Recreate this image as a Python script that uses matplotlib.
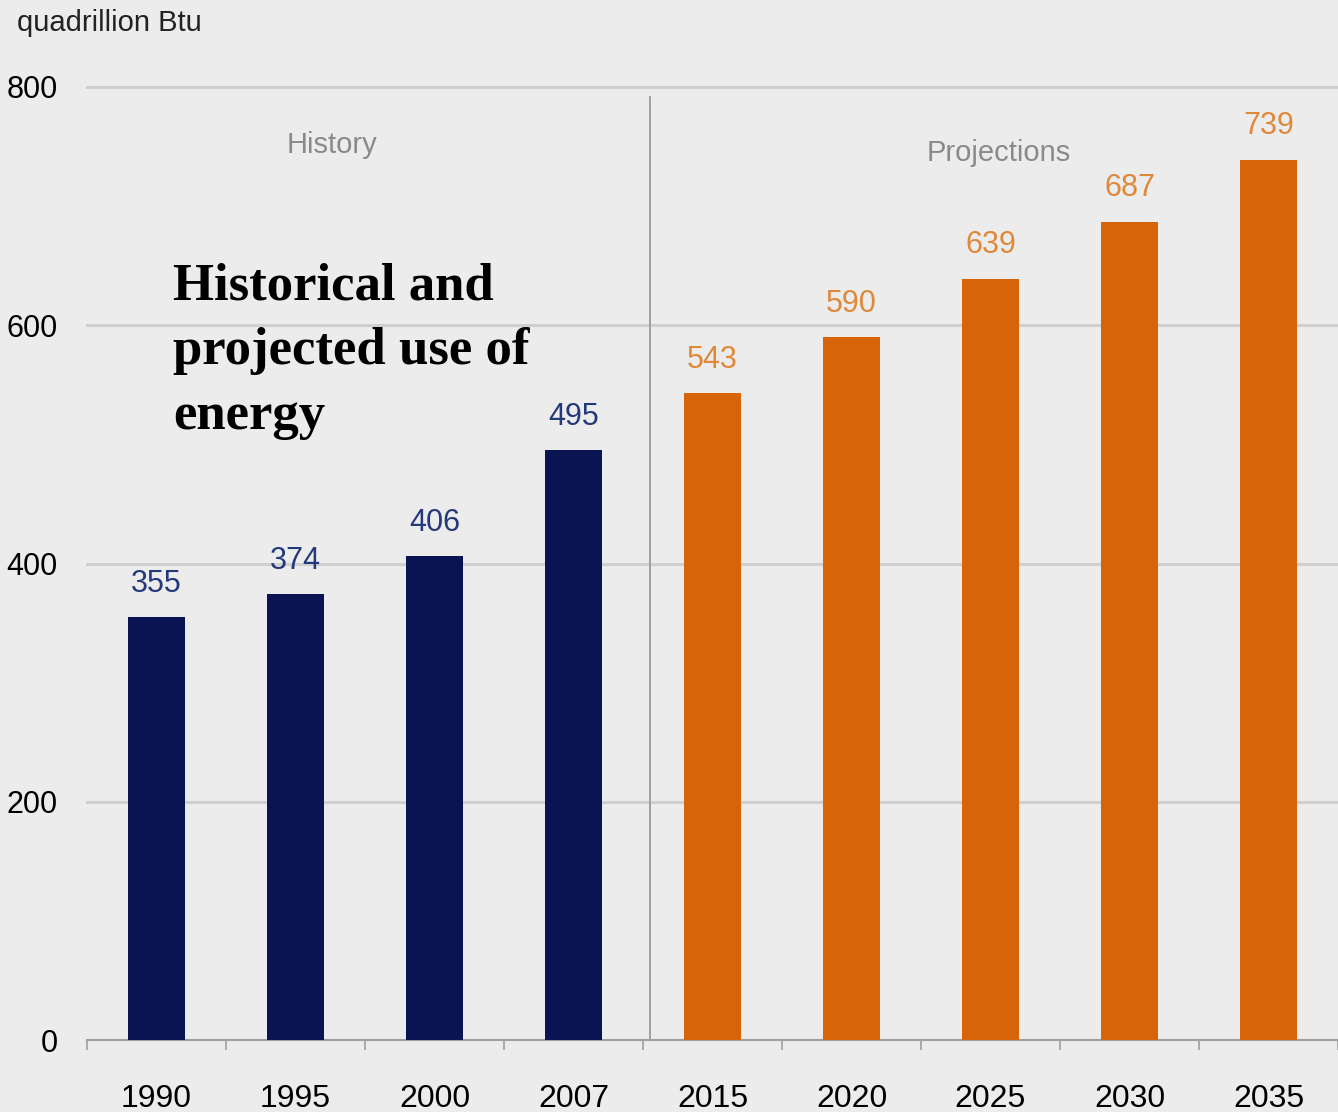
import matplotlib
matplotlib.use("Agg")
import matplotlib.pyplot as plt

years = ["1990", "1995", "2000", "2007", "2015", "2020", "2025", "2030", "2035"]
energy_use = [355, 374, 406, 495, 543, 590, 639, 687, 739]
n_history = 4
y_ticks = [0, 200, 400, 600, 800]

BG = "#ececec"
NAVY = "#0b1452"
ORANGE = "#d8640a"

plt.rcParams.update({
    "font.family": ["Liberation Sans", "DejaVu Sans"],
    "figure.facecolor": BG,
    "axes.facecolor": BG,
})

fig = plt.figure(figsize=(13.38, 11.12), dpi=100)
W, H = 1338, 1112
ax = fig.add_axes([87 / W, (H - 1040) / H, (W - 87) / W, (1040 - 87) / H])

x = list(range(len(years)))
colors = [NAVY if i < n_history else ORANGE for i in x]
ax.bar(x, energy_use, width=0.41, color=colors, zorder=3)

# value labels
for i, v in enumerate(energy_use):
    c = "#24397a" if i < n_history else "#e0883a"
    ax.text(i, v + 28, str(v), ha="center", va="center", fontsize=22, color=c, zorder=4)

ax.set_xlim(-0.5, 8.44)
ax.set_ylim(0, 800)

# grid and axis styling
for t in y_ticks[1:]:
    ax.axhline(t, color="#cfcfcf", linewidth=2.2, zorder=1, clip_on=False)
for s in ["top", "right", "left"]:
    ax.spines[s].set_visible(False)
ax.spines["bottom"].set_color("#a0a0a0")
ax.spines["bottom"].set_linewidth(1.5)

ax.set_yticks(y_ticks)
ax.set_yticklabels([str(t) for t in y_ticks], fontsize=22)
ax.tick_params(axis="y", length=0, pad=21)

ax.set_xticks(x)
ax.set_xticklabels(years, fontsize=23)
ax.tick_params(axis="x", length=0, pad=32)
ax.set_xticks([i - 0.5 for i in range(len(years) + 1)], minor=True)
ax.tick_params(axis="x", which="minor", length=7, color="#a0a0a0", width=1.2)

# history / projections divider
ax.plot([3.55, 3.55], [0, 792], color="#9a9a9a", linewidth=1.3, zorder=2)
ax.text(1.26, 751, "History", ha="center", va="center", fontsize=21, color="#8a8a8a")
ax.text(6.06, 745, "Projections", ha="center", va="center", fontsize=21, color="#8a8a8a")

fig.text(17 / W, 1 - 23 / H, "quadrillion Btu", ha="left", va="center", fontsize=21, color="#222222")
fig.text(173 / W, 1 - 263 / H, "Historical and\nprojected use of\nenergy", ha="left", va="top",
         fontsize=38, fontweight="bold", family=["Liberation Serif", "DejaVu Serif"],
         linespacing=1.44, color="black")

fig.savefig("out.png", dpi=100, facecolor=BG)
